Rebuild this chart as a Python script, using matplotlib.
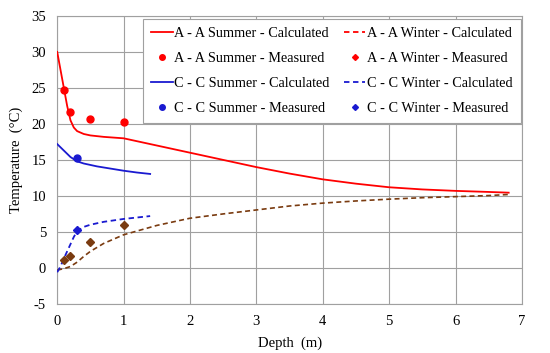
import matplotlib
matplotlib.use("Agg")
import matplotlib.pyplot as plt
from matplotlib.lines import Line2D

# A - A summer, calculated
aa_sum_d = [0, 0.05, 0.1, 0.15, 0.2, 0.25, 0.3, 0.4, 0.5, 0.7, 1.0, 1.5, 2.0, 2.5,
            3.0, 3.5, 4.0, 4.5, 5.0, 5.5, 6.0, 6.5, 6.8]
aa_sum_t = [30.0, 27.5, 25.0, 22.5, 20.5, 19.5, 19.0, 18.6, 18.4, 18.2, 18.0, 17.0,
            16.0, 15.0, 14.0, 13.1, 12.3, 11.7, 11.2, 10.9, 10.7, 10.55, 10.45]
# A - A winter, calculated
aa_win_d = [0, 0.1, 0.2, 0.3, 0.4, 0.5, 0.7, 1.0, 1.5, 2.0, 2.5, 3.0, 3.5, 4.0,
            4.5, 5.0, 5.5, 6.0, 6.5, 6.8]
aa_win_t = [-0.3, -0.1, 0.2, 0.8, 1.6, 2.3, 3.4, 4.6, 5.9, 6.9, 7.5, 8.05, 8.6, 9.0,
            9.3, 9.55, 9.75, 9.9, 10.05, 10.2]
# C - C summer, calculated
cc_sum_d = [0, 0.1, 0.2, 0.3, 0.4, 0.6, 0.8, 1.0, 1.2, 1.4]
cc_sum_t = [17.2, 16.3, 15.4, 14.8, 14.5, 14.1, 13.8, 13.5, 13.25, 13.05]
# C - C winter, calculated
cc_win_d = [0, 0.05, 0.1, 0.15, 0.2, 0.25, 0.3, 0.4, 0.5, 0.7, 1.0, 1.2, 1.4]
cc_win_t = [-0.6, 0.2, 1.3, 2.3, 3.3, 4.3, 5.1, 5.7, 6.0, 6.4, 6.8, 7.0, 7.2]

# measured
aa_sum_md = [0.1, 0.2, 0.5, 1.0]
aa_sum_mt = [24.7, 21.6, 20.65, 20.3]
aa_win_md = [0.1, 0.2, 0.5, 1.0]
aa_win_mt = [1.1, 1.7, 3.6, 5.9]
cc_sum_md = [0.3]
cc_sum_mt = [15.3]
cc_win_md = [0.3]
cc_win_mt = [5.2]

plt.rcParams['font.family'] = ['Liberation Serif', 'DejaVu Serif']
plt.rcParams['axes.unicode_minus'] = False

fig = plt.figure(figsize=(5.5, 3.53), dpi=100)
ax = fig.add_axes([0.104, 0.139, 0.845, 0.816])

brown = '#7a3b10'
ax.plot(aa_sum_d, aa_sum_t, color='#ff0000', lw=1.3, zorder=3)
ax.plot(aa_win_d, aa_win_t, color=brown, lw=1.2, ls=(0, (3, 2)), zorder=3)
ax.plot(cc_sum_d, cc_sum_t, color='#1a1ad0', lw=1.3, zorder=3)
ax.plot(cc_win_d, cc_win_t, color='#1a1ad0', lw=1.3, ls=(0, (3, 2)), zorder=3)
ax.plot(aa_sum_md, aa_sum_mt, 'o', color='#ff0000', ms=5, zorder=4)
ax.plot(aa_win_md, aa_win_mt, 'D', color=brown, ms=4, zorder=4)
ax.plot(cc_sum_md, cc_sum_mt, 'o', color='#1a1ad0', ms=5, zorder=4)
ax.plot(cc_win_md, cc_win_mt, 'D', color='#1a1ad0', ms=4, zorder=4)

ax.set_xlim(0, 7)
ax.set_ylim(-5, 35)
ax.set_xticks(range(0, 8))
ax.set_yticks(range(-5, 36, 5))
ax.grid(True, color='#a0a0a0', lw=0.8)
ax.set_axisbelow(True)
for s in ax.spines.values():
    s.set_color('#a0a0a0')
ax.tick_params(length=0, labelsize=10.5)
ax.tick_params(axis='x', pad=8)
ax.tick_params(axis='y', pad=8)
ax.set_xlabel('Depth  (m)', fontsize=10.5, labelpad=6)
ax.set_ylabel('Temperature  (\u00b0C)', fontsize=10.5, labelpad=6)

handles = [
    Line2D([], [], color='#ff0000', lw=1.3),
    Line2D([], [], color='#ff0000', marker='o', ls='none', ms=4),
    Line2D([], [], color='#1a1ad0', lw=1.3),
    Line2D([], [], color='#1a1ad0', marker='o', ls='none', ms=4),
    Line2D([], [], color='#ff0000', lw=1.3, ls=(0, (3, 2))),
    Line2D([], [], color='#ff0000', marker='D', ls='none', ms=3),
    Line2D([], [], color='#1a1ad0', lw=1.3, ls=(0, (3, 2))),
    Line2D([], [], color='#1a1ad0', marker='D', ls='none', ms=3),
]
labels = ['A - A Summer - Calculated', 'A - A Summer - Measured',
          'C - C Summer - Calculated', 'C - C Summer - Measured',
          'A - A Winter - Calculated', 'A - A Winter - Measured',
          'C - C Winter - Calculated', 'C - C Winter - Measured']
leg = ax.legend(handles, labels, ncol=2, loc='upper right',
                bbox_to_anchor=(0.998, 0.99), borderaxespad=0,
                fontsize=10.3, fancybox=False,
                framealpha=1, edgecolor='#a0a0a0', handlelength=1.5,
                handletextpad=0.1, columnspacing=1.0, labelspacing=0.82,
                borderpad=0.6)
leg.get_frame().set_linewidth(0.8)

fig.savefig('out.png', dpi=100)
